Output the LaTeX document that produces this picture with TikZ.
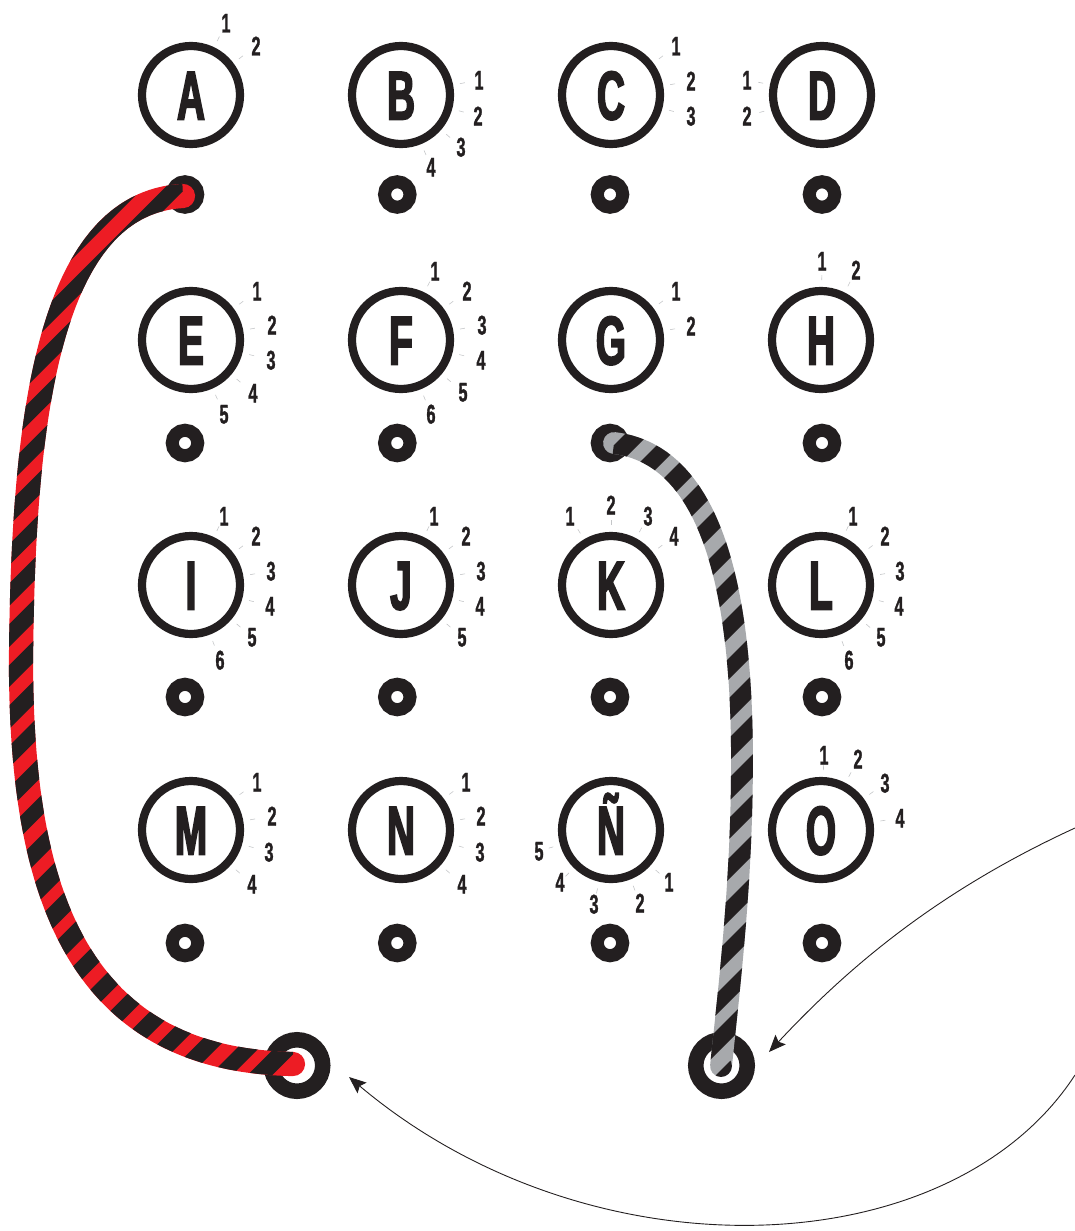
\documentclass[tikz,border=0pt]{standalone}
\usepackage{fontspec}
\usetikzlibrary{calc,arrows.meta}
\newfontfamily\letterfont[FakeStretch=0.56,FakeBold=2.4]{Liberation Sans Bold}
\newfontfamily\digitfont[FakeStretch=0.6,FakeBold=1.2]{Liberation Sans Bold}
\definecolor{ink}{HTML}{231F20}
\definecolor{wirered}{HTML}{ED1C24}
\definecolor{wiregray}{HTML}{A7A9AC}
\definecolor{tickgray}{HTML}{C4C6C8}
\tikzset{
  knob/.style={circle,draw=ink,line width=8.2pt,minimum size=98pt,inner sep=0pt,outer sep=0pt,text=ink,
    font=\letterfont\fontsize{69}{69}\selectfont,text height=49pt,text depth=0pt},
  portlabel/.style={inner sep=0pt,text=ink,font=\digitfont\fontsize{27}{27}\selectfont,text height=19pt,text depth=0pt},
  porttick/.style={draw=tickgray,line width=0.6pt},
  jack/.style={circle,draw=ink,line width=13pt,minimum size=25.5pt,inner sep=0pt,outer sep=0pt},
  bigjack/.style={circle,draw=ink,line width=15.5pt,minimum size=51.5pt,inner sep=0pt,outer sep=0pt},
  leader/.style={draw=ink,line width=0.9pt,-{Stealth[length=17pt,width=14pt,inset=3pt]}},
  declare function={
    bz(\u,\a,\b,\c,\d)=(1-\u)*(1-\u)*(1-\u)*\a+3*(1-\u)*(1-\u)*\u*\b+3*(1-\u)*\u*\u*\c+\u*\u*\u*\d;
    dbz(\u,\a,\b,\c,\d)=3*(1-\u)*(1-\u)*(\b-\a)+6*(1-\u)*\u*(\c-\b)+3*\u*\u*(\d-\c);
  }
}
% one side of a stroked Bezier: x controls, y controls, signed half width, list of sample numbers
\newcommand\bandside[4]{foreach \i in {#4} {-- ({bz(\i/40,#1)-(#3)*dbz(\i/40,#2)/veclen(dbz(\i/40,#1),dbz(\i/40,#2))},{bz(\i/40,#2)+(#3)*dbz(\i/40,#1)/veclen(dbz(\i/40,#1),dbz(\i/40,#2))})}}
\newcommand\stripefill[1]{\foreach \a/\b in {#1} {\fill[ink] ({\a-150},150) -- ({\a-1120},1120) -- ({\b-1120},1120) -- ({\b-150},150) -- cycle;}}
\newcommand\ports[2]{\foreach \n/\x/\y in {#2} {
  \node[portlabel] (#1\n) at (\x,\y) {\n};
  \draw[porttick] ($(#1.center)!60pt!(#1\n.center)$) -- ($(#1.center)!65pt!(#1\n.center)$);}}
\begin{document}
\begin{tikzpicture}[x=1pt,y=-1pt]
\useasboundingbox (0,0) rectangle (1075,1231);
% knobs
\node[knob] (A) at (191,95) {A};
\node[knob] (B) at (401,95) {B};
\node[knob] (C) at (611,95) {C};
\node[knob] (D) at (822,95) {D};
\node[knob] (E) at (191,340) {E};
\node[knob] (F) at (401,340) {F};
\node[knob] (G) at (611,340) {G};
\node[knob] (H) at (821,340) {H};
\node[knob] (I) at (191,585) {I};
\node[knob] (J) at (401,585) {J};
\node[knob] (K) at (611,585) {K};
\node[knob] (L) at (821,585) {L};
\node[knob] (M) at (191,830) {M};
\node[knob] (N) at (401,830) {N};
\node[knob] (NN) at (611,830) {Ñ};
\node[knob] (O) at (821,830) {O};
% port labels
\ports{A}{1/226/23,2/256/46}
\ports{B}{1/479/80,2/478/116,3/461/147,4/431/167}
\ports{C}{1/676/46,2/691/81,3/691/116}
\ports{D}{1/747/80,2/747/116}
\ports{E}{1/257/291,2/272/325,3/271/360,4/253/393,5/224/414}
\ports{F}{1/435/271,2/467/291,3/482/325,4/481/360,5/463/392,6/431/414}
\ports{G}{1/676/291,2/691/326}
\ports{H}{1/822/261,2/856/270}
\ports{I}{1/224/516,2/256/536,3/271/571,4/270/606,5/252/637,6/220/660}
\ports{J}{1/434/516,2/466/536,3/481/571,4/480/606,5/462/637}
\ports{K}{1/570/516,2/611/505,3/648/516,4/674/536}
\ports{L}{1/853/516,2/885/536,3/900/571,4/899/606,5/881/637,6/849/660}
\ports{M}{1/257/782,2/272/816,3/269/852,4/252/884}
\ports{N}{1/466/782,2/481/816,3/480/852,4/462/884}
\ports{NN}{1/669/882,2/640/903,3/594/904,4/560/882,5/539/851}
\ports{O}{1/824/755,2/858/759,3/885/783,4/900/818}
% jacks
\foreach \r/\y in {a/194.5,b/443,c/697,d/943}{
  \node[jack] (j\r1) at (185,\y) {};
  \node[jack] (j\r2) at (397.3,\y) {};
  \node[jack] (j\r3) at (610,\y) {};
  \node[jack] (j\r4) at (822,\y) {};
}
\node[bigjack] (bigL) at (297,1065.5) {};
\node[bigjack] (bigR) at (721.5,1065.5) {};
% red wire
\draw[wirered,line width=24.2pt,line cap=round]
  (183,196) .. controls (45,203) and (23,430) .. (21,660) .. controls (21,880) and (70,1060) .. (293,1064);
\begin{scope}
  \clip (183,196) \bandside{183,45,23,21}{196,203,430,660}{12.1}{0,1,...,40} \bandside{21,21,70,293}{660,880,1060,1064}{12.1}{0,1,...,40}
        \bandside{21,21,70,293}{660,880,1060,1064}{-12.1}{40,39,...,0} \bandside{183,45,23,21}{196,203,430,660}{-12.1}{40,39,...,0} -- cycle;
  \stripefill{100/331,352.7/374,391.7/413,431.7/452.7,472.3/493,511.7/534.3,553.3/574.3,592.7/615,633.3/656,674.3/696,714.7/738,755/776.7,796.7/818.3,836.7/857.3,876.7/899,917.3/940,956.7/981.3,997.3/1021,1039.3/1061.3,1080/1102.7,1121.3/1143.3,1161.7/1185,1201.7/1224,1241.7/1265,1285/1307,1322.7/1347.3}
\end{scope}
% gray wire
\draw[wiregray,line width=21.8pt,line cap=round]
  (614,443) .. controls (715,455) and (742,600) .. (742,760) .. controls (742,880) and (730,980) .. (721,1066);
\begin{scope}
  \clip (614,443) \bandside{614,715,742,742}{443,455,600,760}{10.9}{0,1,...,40} \bandside{742,742,730,721}{760,880,980,1066}{10.9}{0,1,...,40}
        \bandside{742,742,730,721}{760,880,980,1066}{-10.9}{40,39,...,0} \bandside{614,715,742,742}{443,455,600,760}{-10.9}{40,39,...,0} -- cycle;
  \stripefill{1059/1083,1102/1125,1142/1168,1183/1208,1225/1248,1268/1288,1306/1327,1345/1367,1387/1408,1427/1450,1467/1490,1507/1530,1547/1568,1587/1608,1628/1650,1668/1690,1710/1731,1747/1770}
\end{scope}
\begin{scope}
  \clip (721,1066) circle[radius=10.9pt];
  \stripefill{1791/1840}
\end{scope}
% leaders
\coordinate (l1s) at (1075,828);
\coordinate (l1e) at (769,1052);
\coordinate (l2s) at (1075,1075);
\coordinate (l2e) at (349,1077);
\draw[leader] (l1s) .. controls (940,890) and (850,965) .. (l1e);
\draw[leader] (l2s) .. controls (950,1267) and (590,1280) .. (l2e);
\end{tikzpicture}
\end{document}
